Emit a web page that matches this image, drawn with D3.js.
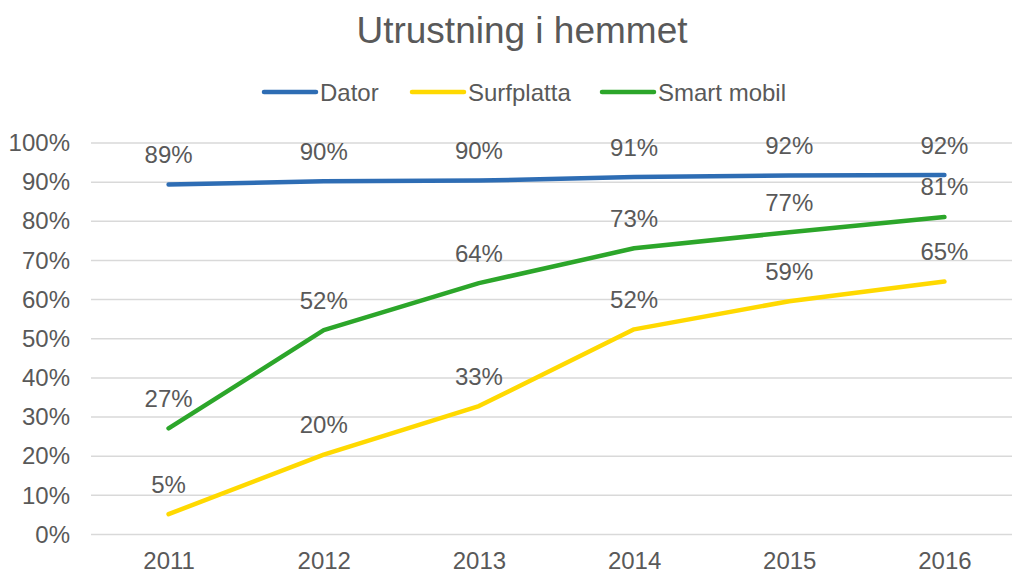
<!DOCTYPE html>
<html>
<head>
<meta charset="utf-8">
<script src="https://cdn.jsdelivr.net/npm/d3@7"></script>
<style>
  body { margin: 0; background: #fff; }
  text { font-family: "Liberation Sans", Arial, sans-serif; fill: #595959; }
</style>
</head>
<body>
<svg id="chart"></svg>
<script>
// data
var years = ["2011", "2012", "2013", "2014", "2015", "2016"];
var dator = [89.4, 90.2, 90.4, 91.3, 91.7, 91.8];
var surfplatta = [5.2, 20.4, 32.8, 52.4, 59.6, 64.6];
var smartMobil = [27.1, 52.2, 64.2, 73.1, 77.2, 81.1];
var dataLabels = {
  "Dator": ["89%", "90%", "90%", "91%", "92%", "92%"],
  "Surfplatta": ["5%", "20%", "33%", "52%", "59%", "65%"],
  "Smart mobil": ["27%", "52%", "64%", "73%", "77%", "81%"]
};
var yTicks = [0, 10, 20, 30, 40, 50, 60, 70, 80, 90, 100];

var series = [
  {name: "Dator", values: dator, color: "#2e6db4"},
  {name: "Surfplatta", values: surfplatta, color: "#ffd900"},
  {name: "Smart mobil", values: smartMobil, color: "#2ca62a"}
];

// set the dimensions
var W = 1012, H = 573;
var plotLeft = 91, plotRight = 1022, plotTop = 143, plotBottom = 534.5;
var fontSize = "24px";

var svg = d3.select("#chart")
  .attr("width", W)
  .attr("height", H);

// scales
var x = d3.scalePoint().domain(years).range([plotLeft, plotRight]).padding(0.5);
var y = d3.scaleLinear().domain([0, 100]).range([plotBottom, plotTop]);

// title
svg.append("text")
  .attr("x", 522)
  .attr("y", 43)
  .attr("text-anchor", "middle")
  .style("font-size", "37px")
  .text("Utrustning i hemmet");

// gridlines
svg.append("g")
  .selectAll("line")
  .data(yTicks)
  .enter().append("line")
  .attr("x1", plotLeft)
  .attr("x2", plotRight)
  .attr("y1", function(d) { return y(d); })
  .attr("y2", function(d) { return y(d); })
  .attr("stroke", "#d9d9d9")
  .attr("stroke-width", 1.5);

// Y axis
var yAxis = svg.append("g")
  .attr("transform", "translate(" + plotLeft + ",0)")
  .call(d3.axisLeft(y).tickValues(yTicks).tickSize(0).tickPadding(21)
    .tickFormat(function(d) { return d + "%"; }));
yAxis.select(".domain").remove();
yAxis.selectAll("text")
  .style("font-size", fontSize)
  .style("font-family", "'Liberation Sans', Arial, sans-serif")
  .attr("fill", "#595959");

// X axis
var xAxis = svg.append("g")
  .attr("transform", "translate(0," + plotBottom + ")")
  .call(d3.axisBottom(x).tickSize(0).tickPadding(17));
xAxis.select(".domain").remove();
xAxis.selectAll("text")
  .style("font-size", fontSize)
  .style("font-family", "'Liberation Sans', Arial, sans-serif")
  .attr("fill", "#595959");

// lines
var valueline = d3.line()
  .x(function(d, i) { return x(years[i]); })
  .y(function(d) { return y(d); });

series.forEach(function(s) {
  svg.append("path")
    .datum(s.values)
    .attr("fill", "none")
    .attr("stroke", s.color)
    .attr("stroke-width", 4.5)
    .attr("stroke-linecap", "round")
    .attr("stroke-linejoin", "round")
    .attr("d", valueline);
});

// data labels
series.forEach(function(s) {
  svg.append("g")
    .selectAll("text")
    .data(s.values)
    .enter().append("text")
    .attr("x", function(d, i) { return x(years[i]); })
    .attr("y", function(d) { return y(d) - 30; })
    .attr("text-anchor", "middle")
    .attr("dominant-baseline", "central")
    .style("font-size", fontSize)
    .text(function(d, i) { return dataLabels[s.name][i]; });
});

// legend
var legendItems = [
  {name: "Dator", x: 264},
  {name: "Surfplatta", x: 412},
  {name: "Smart mobil", x: 602}
];
var legend = svg.append("g").attr("transform", "translate(0,92)");
legendItems.forEach(function(item) {
  var s = series.filter(function(d) { return d.name === item.name; })[0];
  legend.append("line")
    .attr("x1", item.x)
    .attr("x2", item.x + 52)
    .attr("stroke", s.color)
    .attr("stroke-width", 4.5)
    .attr("stroke-linecap", "round");
  legend.append("text")
    .attr("x", item.x + 56)
    .attr("dominant-baseline", "central")
    .style("font-size", fontSize)
    .text(item.name);
});
</script>
</body>
</html>
